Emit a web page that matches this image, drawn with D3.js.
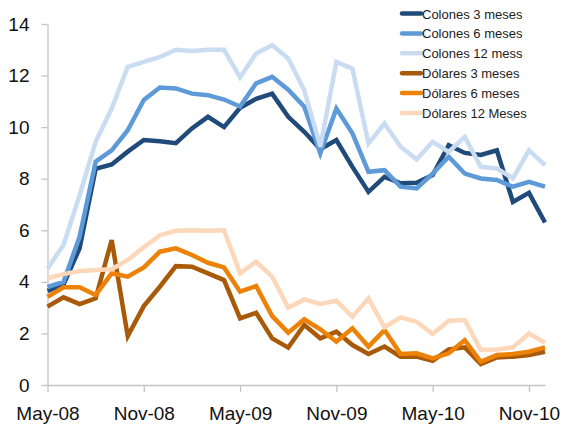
<!DOCTYPE html>
<html>
<head>
<meta charset="utf-8">
<script src="https://cdn.jsdelivr.net/npm/d3@7"></script>
<style>
  body { margin: 0; background: #fff; }
  text { font-family: "Liberation Sans", Arial, sans-serif; }
</style>
</head>
<body>
<script>
// monthly categories, May-08 .. Dec-10
var months = ["May-08", "Jun-08", "Jul-08", "Aug-08", "Sep-08", "Oct-08", "Nov-08", "Dec-08",
  "Jan-09", "Feb-09", "Mar-09", "Apr-09", "May-09", "Jun-09", "Jul-09", "Aug-09", "Sep-09", "Oct-09",
  "Nov-09", "Dec-09", "Jan-10", "Feb-10", "Mar-10", "Apr-10", "May-10", "Jun-10", "Jul-10", "Aug-10",
  "Sep-10", "Oct-10", "Nov-10", "Dec-10"];
var tickLabels = ["May-08", "Nov-08", "May-09", "Nov-09", "May-10", "Nov-10"];
var yTicks = [0, 2, 4, 6, 8, 10, 12, 14];

var seriesNames = ["Colones 3 meses", "Colones 6 meses", "Colones 12 mess",
  "Dólares 3 meses", "Dólares 6 meses", "Dólares 12 Meses"];

var colones3 = [3.65, 3.9, 5.3, 8.38, 8.55, 9.05, 9.5, 9.45, 9.38, 9.95, 10.4, 10.0, 10.75, 11.1, 11.3, 10.4,
  9.82, 9.15, 9.5, 8.46, 7.49, 8.07, 7.82, 7.84, 8.14, 9.3, 9.0, 8.92, 9.1, 7.1, 7.45, 6.3];
var colones6 = [3.8, 4.0, 5.75, 8.66, 9.1, 9.88, 11.05, 11.54, 11.5, 11.3, 11.24, 11.07, 10.8, 11.7, 11.95, 11.45,
  10.79, 8.98, 10.72, 9.76, 8.27, 8.33, 7.69, 7.62, 8.2, 8.85, 8.2, 8.01, 7.95, 7.69, 7.88, 7.69];
var colones12 = [4.52, 5.43, 7.36, 9.43, 10.72, 12.34, 12.53, 12.72, 13.0, 12.95, 13.0, 13.0, 11.93, 12.86, 13.18, 12.66,
  11.43, 9.24, 12.53, 12.27, 9.37, 10.14, 9.24, 8.75, 9.43, 9.04, 9.62, 8.46, 8.4, 8.01, 9.1, 8.53];
var dolares3 = [3.04, 3.4, 3.14, 3.36, 5.62, 1.9, 3.06, 3.81, 4.61, 4.59, 4.33, 4.07, 2.58, 2.8, 1.81, 1.45,
  2.33, 1.81, 2.07, 1.55, 1.2, 1.49, 1.1, 1.1, 0.94, 1.38, 1.46, 0.81, 1.07, 1.1, 1.16, 1.29];
var dolares6 = [3.42, 3.79, 3.79, 3.49, 4.33, 4.2, 4.56, 5.17, 5.3, 5.04, 4.74, 4.56, 3.62, 3.84, 2.67, 2.03,
  2.55, 2.16, 1.68, 2.2, 1.49, 2.13, 1.2, 1.23, 1.03, 1.23, 1.74, 0.9, 1.16, 1.2, 1.29, 1.46];
var dolares12 = [4.14, 4.3, 4.42, 4.46, 4.49, 4.85, 5.34, 5.81, 5.98, 6.0, 5.98, 6.0, 4.33, 4.78, 4.2, 3.0,
  3.32, 3.14, 3.27, 2.65, 3.36, 2.24, 2.62, 2.45, 1.98, 2.49, 2.52, 1.36, 1.38, 1.46, 2.0, 1.64];

var colors = ["#1f4a7a", "#5e9ad8", "#c9dcf2", "#a95a08", "#ec8207", "#fdd7b9"];
var allSeries = [colones3, colones6, colones12, dolares3, dolares6, dolares12];

var width = 565, height = 431;

var svg = d3.select("body").append("svg")
  .attr("width", width)
  .attr("height", height);

var x = d3.scalePoint()
  .domain(months)
  .range([47.5, 545]);

var y = d3.scaleLinear()
  .domain([0, 14])
  .range([385, 24]);

// axes
var yAxis = svg.append("g")
  .attr("transform", "translate(47.5,0)")
  .call(d3.axisLeft(y).tickValues(yTicks).tickSize(6).tickSizeOuter(0).tickPadding(12));

var xAxis = svg.append("g")
  .attr("transform", "translate(0,385)")
  .call(d3.axisBottom(x).tickValues(tickLabels).tickSize(7).tickSizeOuter(0).tickPadding(15));

svg.selectAll(".domain, .tick line").attr("stroke", "#c4c4c4").attr("stroke-width", 1.3);
svg.selectAll(".tick text")
  .attr("font-size", "19px")
  .attr("fill", "#111")
  .style("font-family", "'Liberation Sans', Arial, sans-serif");

// lines
var line = d3.line()
  .x(function (d, i) { return x(months[i]); })
  .y(function (d) { return y(d); });

allSeries.forEach(function (s, k) {
  svg.append("path")
    .datum(s)
    .attr("fill", "none")
    .attr("stroke", colors[k])
    .attr("stroke-width", 4.5)
    .attr("stroke-linejoin", "miter")
    .attr("d", line);
});

// legend
var legend = svg.append("g");
seriesNames.forEach(function (name, k) {
  var ly = 13.5 + k * 19.9;
  legend.append("line")
    .attr("x1", 402).attr("x2", 421)
    .attr("y1", ly).attr("y2", ly)
    .attr("stroke", colors[k])
    .attr("stroke-width", 4.5)
    .attr("stroke-linecap", "round");
  legend.append("text")
    .attr("x", 422)
    .attr("y", ly + 5)
    .attr("font-size", "13px")
    .attr("fill", "#222")
    .text(name);
});
</script>
</body>
</html>
